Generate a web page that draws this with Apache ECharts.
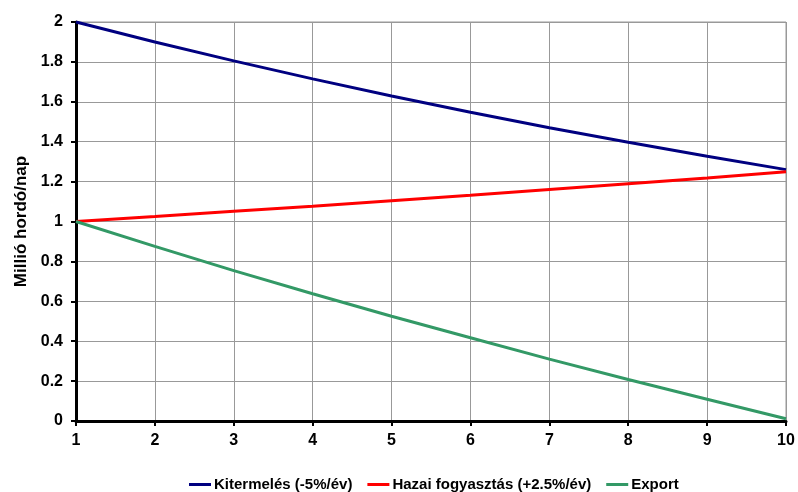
<!DOCTYPE html>
<html><head><meta charset="utf-8">
<script src="https://cdn.jsdelivr.net/npm/echarts@6/dist/echarts.min.js"></script>
<style>html,body{margin:0;padding:0;background:#fff}#c{width:798px;height:492px}</style>
</head><body><div id="c"></div>
<script>
var years = [1,2,3,4,5,6,7,8,9,10];
var kitermeles = [2.0,1.9,1.805,1.715,1.629,1.548,1.470,1.397,1.327,1.260];
var hazai = [1.0,1.025,1.051,1.077,1.104,1.131,1.160,1.189,1.218,1.249];
var exportV = [1.0,0.875,0.754,0.638,0.525,0.417,0.310,0.208,0.109,0.011];
var names = ['Kitermelés (-5%/év)','Hazai fogyasztás (+2.5%/év)','Export'];
var colors = ['#000080','#ff0000','#339966'];
function pts(v){return years.map(function(x,i){return [x,v[i]];});}
var font = 'Liberation Sans, Arial, sans-serif';
var chart = echarts.init(document.getElementById('c'));
chart.setOption({
  animation:false,
  grid:{left:76,right:12,top:22,bottom:71,show:true,borderColor:'#999',borderWidth:1},
  legend:{top:472,left:184,itemWidth:22,itemHeight:3,itemGap:15,icon:'rect',
    textStyle:{fontFamily:font,fontWeight:'bold',fontSize:15,color:'#000',padding:[0,0,0,-2]},
    data:names},
  xAxis:{type:'value',min:1,max:10,interval:1,
    axisLine:{lineStyle:{color:'#000',width:3}},
    axisTick:{show:true,length:5,lineStyle:{color:'#000',width:2}},
    axisLabel:{fontFamily:font,fontWeight:'bold',fontSize:16,color:'#000',margin:12},
    splitLine:{show:true,lineStyle:{color:'#999',width:1}}},
  yAxis:{type:'value',min:0,max:2,interval:0.2,
    name:'Millió hordó/nap',nameLocation:'middle',nameGap:46,
    nameTextStyle:{fontFamily:font,fontWeight:'bold',fontSize:17,color:'#000'},
    axisLine:{show:true,lineStyle:{color:'#000',width:3}},
    axisTick:{show:true,length:5,lineStyle:{color:'#000',width:2}},
    axisLabel:{fontFamily:font,fontWeight:'bold',fontSize:16,color:'#000',margin:13,
      formatter:function(v){return String(Math.round(v*10)/10);}},
    splitLine:{show:true,lineStyle:{color:'#999',width:1}}},
  series:[
    {name:names[0],type:'line',data:pts(kitermeles),symbol:'none',lineStyle:{color:colors[0],width:3},itemStyle:{color:colors[0]}},
    {name:names[1],type:'line',data:pts(hazai),symbol:'none',lineStyle:{color:colors[1],width:3},itemStyle:{color:colors[1]}},
    {name:names[2],type:'line',data:pts(exportV),symbol:'none',lineStyle:{color:colors[2],width:3},itemStyle:{color:colors[2]}}
  ]
});
</script></body></html>
